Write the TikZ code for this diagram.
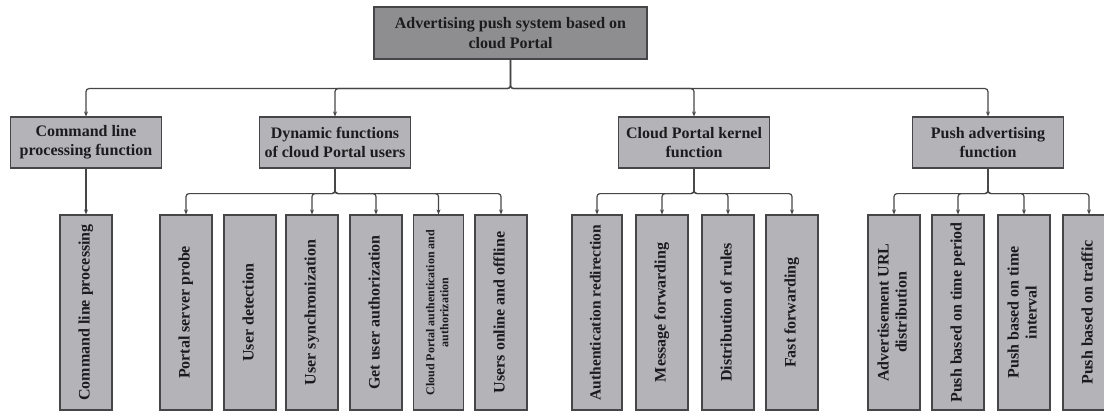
\documentclass[tikz,border=0pt]{standalone}
\usepackage{fontspec}
\setmainfont{Liberation Serif}
\usepackage{graphicx}
\usepackage{tikz}
\usetikzlibrary{arrows.meta}
\usepackage{xcolor}
\definecolor{ColTop}{RGB}{142,142,145}
\definecolor{ColBox}{RGB}{180,180,184}
\definecolor{ColLine}{RGB}{70,70,72}
\definecolor{ColText}{RGB}{28,28,30}
\tikzstyle{NodeTop}=[rectangle,draw=ColLine,fill=ColTop,line width=1.2pt,inner sep=0pt,
minimum width=273pt,minimum height=52pt,align=center,text=ColText,
font=\fontsize{16}{20}\selectfont\bfseries]
\tikzstyle{NodeFunc}=[rectangle,draw=ColLine,fill=ColBox,line width=1.2pt,inner sep=0pt,
minimum width=151pt,minimum height=51pt,align=center,text=ColText,
font=\fontsize{16}{19}\selectfont\bfseries]
\tikzstyle{NodeLeaf}=[rectangle,draw=ColLine,fill=ColBox,line width=1.2pt,inner sep=0pt,
minimum width=52pt,minimum height=195pt,text=ColText,
font=\fontsize{16}{18}\selectfont\bfseries]
\tikzstyle{EdgeTree}=[ColLine,line width=1.2pt,rounded corners=3pt,-{Stealth[length=5pt,width=4pt]}]
\newcommand{\VText}[1]{\rotatebox{90}{\begin{tabular}{@{}c@{}}#1\end{tabular}}}

\begin{document}
\begin{tikzpicture}[x=1pt,y=1pt]
        \useasboundingbox(0,0)rectangle(1104,-412);
        % root
        \node[NodeTop](top)at(510.5,-33){Advertising push system based on\\cloud Portal};
        % functions
        \node[NodeFunc](cmdf)at(86,-142.5){Command line\\processing function};
        \node[NodeFunc](dynf)at(335,-142.5){Dynamic functions\\of cloud Portal users};
        \node[NodeFunc](kernf)at(694,-142.5){Cloud Portal kernel\\function};
        \node[NodeFunc](pushf)at(988,-142.5){Push advertising\\function};
        % leaves
        \node[NodeLeaf](cmdp)at(86,-312.5){\VText{Command line processing}};
        \node[NodeLeaf](probe)at(186,-312.5){\VText{Portal server probe}};
        \node[NodeLeaf](detect)at(250,-312.5){\VText{User detection}};
        \node[NodeLeaf](sync)at(312,-312.5){\VText{User synchronization}};
        \node[NodeLeaf](getauth)at(376,-312.5){\VText{Get user authorization}};
        \node[NodeLeaf,minimum width=50pt,font=\fontsize{12}{14}\selectfont\bfseries](cpauth)at(438.5,-312.5){\VText{Cloud Portal authentication and\\authorization}};
        \node[NodeLeaf](online)at(501,-312.5){\VText{Users online and offline}};
        \node[NodeLeaf,minimum width=50pt,font=\fontsize{15.5}{18}\selectfont\bfseries](authred)at(597,-312.5){\VText{Authentication redirection}};
        \node[NodeLeaf](msgfwd)at(662,-312.5){\VText{Message forwarding}};
        \node[NodeLeaf](rules)at(728,-312.5){\VText{Distribution of rules}};
        \node[NodeLeaf](fastfwd)at(792,-312.5){\VText{Fast forwarding}};
        \node[NodeLeaf](urldist)at(894,-312.5){\VText{Advertisement URL\\distribution}};
        \node[NodeLeaf](tperiod)at(958,-312.5){\VText{Push based on time period}};
        \node[NodeLeaf](tinterval)at(1024,-312.5){\VText{Push based on time\\interval}};
        \node[NodeLeaf](traffic)at(1089,-312.5){\VText{Push based on traffic}};
        % root to functions
        \draw[EdgeTree](top.south)--++(0,-29)-|(cmdf.north);
        \draw[EdgeTree](top.south)--++(0,-29)-|(dynf.north);
        \draw[EdgeTree](top.south)--++(0,-29)-|(kernf.north);
        \draw[EdgeTree](top.south)--++(0,-29)-|(pushf.north);
        % functions to leaves
        \draw[EdgeTree](cmdf.south)--(cmdp.north);
        \draw[EdgeTree](dynf.south)--++(0,-25)-|(probe.north);
        \draw[EdgeTree](dynf.south)--++(0,-25)-|(sync.north);
        \draw[EdgeTree](dynf.south)--++(0,-25)-|(getauth.north);
        \draw[EdgeTree](dynf.south)--++(0,-25)-|(cpauth.north);
        \draw[EdgeTree](dynf.south)--++(0,-25)-|(online.north);
        \draw[EdgeTree](kernf.south)--++(0,-25)-|(authred.north);
        \draw[EdgeTree](kernf.south)--++(0,-25)-|(msgfwd.north);
        \draw[EdgeTree](kernf.south)--++(0,-25)-|(rules.north);
        \draw[EdgeTree](kernf.south)--++(0,-25)-|(fastfwd.north);
        \draw[EdgeTree](pushf.south)--++(0,-25)-|(urldist.north);
        \draw[EdgeTree](pushf.south)--++(0,-25)-|(tperiod.north);
        \draw[EdgeTree](pushf.south)--++(0,-25)-|(tinterval.north);
        \draw[EdgeTree](pushf.south)--++(0,-25)-|(traffic.north);
    \end{tikzpicture}
\end{document}
